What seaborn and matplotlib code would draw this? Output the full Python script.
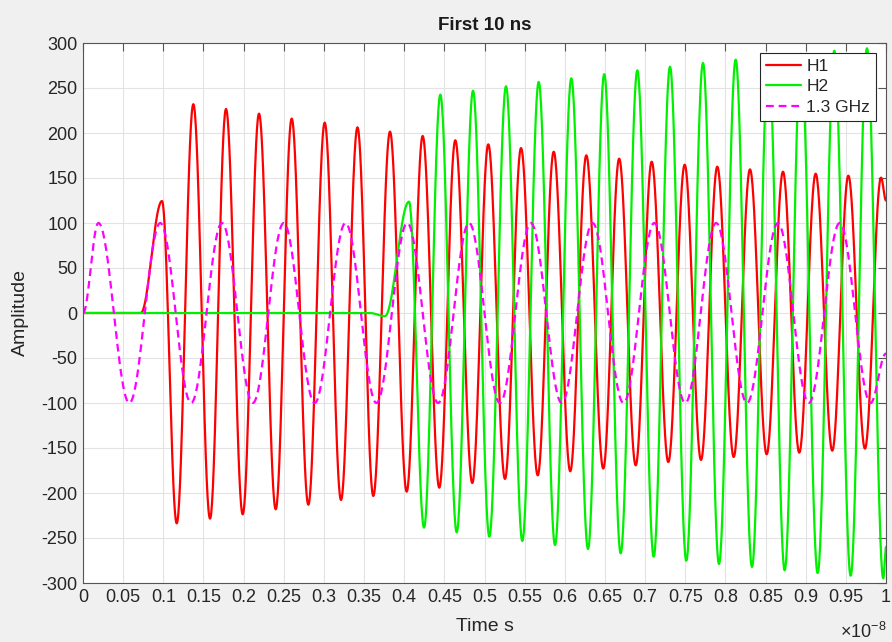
import numpy as np
import pandas as pd
import matplotlib
matplotlib.use("Agg")
import matplotlib.pyplot as plt
import seaborn as sns

# ---- data (time in units of 1e-8 s) ----
h1_t = [0.0, 0.072, 0.0984, 0.1167, 0.1374, 0.1582, 0.1781, 0.1989, 0.2192, 0.2400,
        0.2599, 0.2806, 0.3010, 0.3213, 0.3418, 0.3615, 0.3823, 0.4031, 0.4230, 0.4437,
        0.4636, 0.4848, 0.5047, 0.5255, 0.5455, 0.5663, 0.5862, 0.6068, 0.6268, 0.6479,
        0.6677, 0.6883, 0.7082, 0.7289, 0.7493, 0.7696, 0.7899, 0.8103, 0.8306, 0.8514,
        0.8717, 0.8920, 0.9124, 0.9331, 0.9531, 0.9738, 0.9938, 1.0]
h1_v = [0.0, 0.0, 124.4, -233.7, 232.0, -228.5, 226.7, -223.7, 221.5, -218.1,
        216.0, -213.0, 211.5, -207.8, 206.3, -203.3, 201.5, -198.5, 196.7, -194.1,
        191.9, -188.9, 187.4, -184.4, 183.3, -180.4, 179.2, -175.9, 175.2, -172.8,
        171.5, -169.3, 168.1, -165.6, 164.8, -163.3, 162.6, -160.0, 159.6, -157.0,
        157.0, -155.2, 154.8, -153.0, 152.6, -150.7, 150.4, 125.0]

h2_t = [0.0, 0.357, 0.376, 0.406, 0.4247, 0.4450, 0.4654, 0.4857, 0.5060, 0.5268,
        0.5471, 0.5675, 0.5878, 0.6081, 0.6289, 0.6491, 0.6696, 0.6903, 0.7107, 0.7310,
        0.7513, 0.7721, 0.7920, 0.8128, 0.8331, 0.8537, 0.8738, 0.8941, 0.9149, 0.9356,
        0.9560, 0.9763, 0.9966, 1.0]
h2_v = [0.0, 0.0, -3.5, 123.7, -238.5, 242.6, -243.7, 247.0, -248.5, 251.9,
        -253.3, 256.7, -257.8, 260.7, -262.2, 265.4, -267.0, 269.6, -270.7, 273.7,
        -275.2, 277.8, -278.9, 281.5, -282.2, 285.0, -285.9, 288.0, -288.9, 291.4,
        -291.9, 294.1, -294.8, -260.0]

ref_t = [0.0, 0.0192, 0.0577, 0.0962, 0.1346, 0.1731, 0.2115, 0.2500, 0.2885, 0.3269,
         0.3654, 0.4038, 0.4423, 0.4808, 0.5192, 0.5577, 0.5962, 0.6346, 0.6731, 0.7115,
         0.7500, 0.7885, 0.8269, 0.8654, 0.9038, 0.9423, 0.9808, 1.0]
ref_v = [0.0, 100, -100, 100, -100, 100, -100, 100, -100, 100,
         -100, 100, -100, 100, -100, 100, -100, 100, -100, 100,
         -100, 100, -100, 100, -100, 100, -100, -45.0]

series_labels = ["H1", "H2", "1.3 GHz"]
x_ticks = [round(0.05 * i, 2) for i in range(21)]
x_tick_labels = ["0", "0.05", "0.1", "0.15", "0.2", "0.25", "0.3", "0.35", "0.4", "0.45",
                 "0.5", "0.55", "0.6", "0.65", "0.7", "0.75", "0.8", "0.85", "0.9", "0.95", "1"]
y_ticks = list(range(-300, 301, 50))


def smooth_curve(t, v, n=40):
    """Connect the read extrema with half-cosine segments (signal shape)."""
    xs, ys = [], []
    for i in range(len(t) - 1):
        s = np.linspace(0, 1, n, endpoint=False)
        w = (1 - np.cos(np.pi * s)) / 2
        xs.append(t[i] + (t[i + 1] - t[i]) * s)
        ys.append(v[i] + (v[i + 1] - v[i]) * w)
    xs.append([t[-1]])
    ys.append([v[-1]])
    return np.concatenate(xs), np.concatenate(ys)


frames = []
for lab, (t, v) in zip(series_labels, [(h1_t, h1_v), (h2_t, h2_v), (ref_t, ref_v)]):
    x, y = smooth_curve(t, v)
    frames.append(pd.DataFrame({"time": x, "amp": y, "series": lab}))
df = pd.concat(frames, ignore_index=True)

sns.set_style("white")
plt.rcParams["font.family"] = ["Liberation Sans", "DejaVu Sans"]
plt.rcParams["axes.unicode_minus"] = False
plt.rcParams["mathtext.fontset"] = "custom"
plt.rcParams["mathtext.rm"] = "Liberation Sans"

fig = plt.figure(figsize=(8.92, 6.42), dpi=100, facecolor="#f0f0f0")
ax = fig.add_axes([83 / 892, 1 - 583 / 642, (886 - 83) / 892, (583 - 43) / 642])
ax.set_facecolor("white")

colors = {"H1": "#ff0000", "H2": "#00f000", "1.3 GHz": "#ff00ff"}
for lab in series_labels:
    sub = df[df["series"] == lab]
    sns.lineplot(data=sub, x="time", y="amp", ax=ax, color=colors[lab], label=lab,
                 linewidth=1.6, linestyle=(0, (3.5, 2.2)) if lab == "1.3 GHz" else "-",
                 estimator=None, sort=False)

ax.set_xlim(0, 1)
ax.set_ylim(-300, 300)
ax.set_xticks(x_ticks)
ax.set_xticklabels(x_tick_labels)
ax.set_yticks(y_ticks)
ax.set_yticklabels([str(v) for v in y_ticks])
ax.grid(True, color="#e3e3e3", linewidth=0.8)
ax.set_axisbelow(True)
for sp in ax.spines.values():
    sp.set_color("#555555")
    sp.set_linewidth(0.8)
    sp.set_visible(True)
ax.tick_params(axis="both", direction="in", length=6, width=0.8, color="#555555",
               labelsize=13, labelcolor="#262626", top=True, right=True, pad=4)

ax.set_title("First 10 ns", fontsize=13.5, fontweight="bold", color="#1a1a1a", pad=9)
ax.set_xlabel("Time s", fontsize=14, color="#262626", labelpad=9)
ax.set_ylabel("Amplitude", fontsize=14, color="#262626", labelpad=9)
ax.text(1.0, -0.09, "\u00d7$\\mathregular{10^{-8}}$", transform=ax.transAxes,
        ha="right", va="center", fontsize=13, color="#262626")

leg = ax.legend(loc="upper right", bbox_to_anchor=(0.988, 0.982), borderaxespad=0,
                fontsize=12.5, frameon=True, fancybox=False, framealpha=1,
                edgecolor="#262626", handlelength=2.0, handletextpad=0.3,
                labelspacing=0.3, borderpad=0.35)
leg.get_frame().set_linewidth(0.8)

fig.savefig("out.png", dpi=100, facecolor=fig.get_facecolor())
